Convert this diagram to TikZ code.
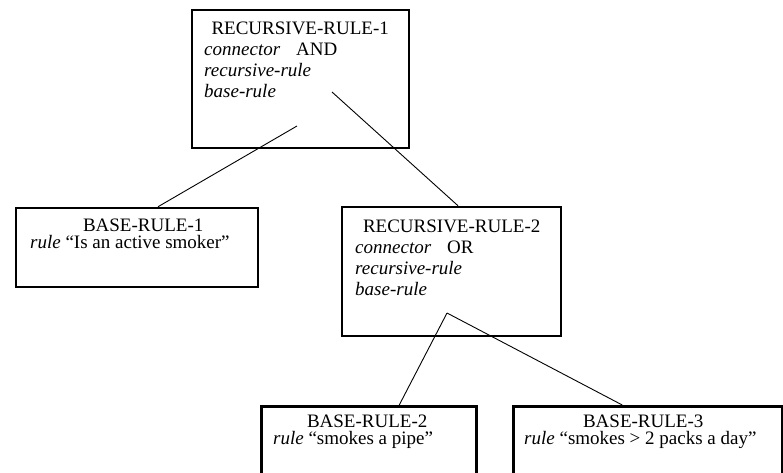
\documentclass[tikz,border=0pt]{standalone}
\usepackage{fontspec}
\setmainfont{Liberation Serif}
\usetikzlibrary{positioning}

\tikzset{
  rulebox/.style={draw=black, line width=2.5pt, inner sep=0pt},
  ruletext/.style={anchor=north west, inner sep=0pt, align=left, font=\fontsize{19}{21}\selectfont},
  basetext/.style={ruletext, font=\fontsize{19}{17.5}\selectfont},
  link/.style={black, line width=0.9pt}
}

\begin{document}
\begin{tikzpicture}[x=1pt, y=-1pt]
  \useasboundingbox (0,0) rectangle (783,473);
  \clip (0,0) rectangle (783,473);
  % Rule boxes
  \node[rulebox, minimum width=217pt, minimum height=138pt] (rec1) at (300.5,79) {};
  \node[rulebox, minimum width=219pt, minimum height=129pt] (rec2) at (451.5,271.5) {};
  \node[rulebox, minimum width=242pt, minimum height=79pt] (base1) at (137,247.5) {};
  \node[rulebox, minimum width=215pt, minimum height=120pt, anchor=north west] (base2) at (260,405) {};
  \node[rulebox, minimum width=269pt, minimum height=120pt, anchor=north west] (base3) at (512,405) {};
  % Slots
  \node[ruletext] (rec1txt) at (204,21.4) {\makebox[192pt]{RECURSIVE-RULE-1}\\ \textit{connector}\hspace{16pt}AND\\ \textit{recursive-rule}\\ \textit{base-rule}};
  \node[ruletext] (rec2txt) at (355,219.4) {\makebox[193pt]{RECURSIVE-RULE-2}\\ \textit{connector}\hspace{16pt}OR\\ \textit{recursive-rule}\\ \textit{base-rule}};
  \node[basetext] (base1txt) at (30,218.4) {\makebox[226pt]{BASE-RULE-1}\\ \textit{rule} “Is an active smoker”};
  \node[basetext] (base2txt) at (273,414.4) {\makebox[188pt]{BASE-RULE-2}\\ \textit{rule} “smokes a pipe”};
  \node[basetext] (base3txt) at (524,414.4) {\makebox[238pt]{BASE-RULE-3}\\ \textit{rule} “smokes > 2 packs a day”};
  % Links
  \coordinate (rec1a) at (297,126);
  \coordinate (rec1b) at (332,92);
  \coordinate (rec2a) at (447,313);
  \draw[link] (rec1a) -- ([xshift=21pt]base1.north);
  \draw[link] (rec1b) -- ([xshift=6.5pt]rec2.north);
  \draw[link] (rec2a) -- ([xshift=30.5pt]base2.north);
  \draw[link] (rec2a) -- ([xshift=-25.5pt]base3.north);
\end{tikzpicture}
\end{document}
